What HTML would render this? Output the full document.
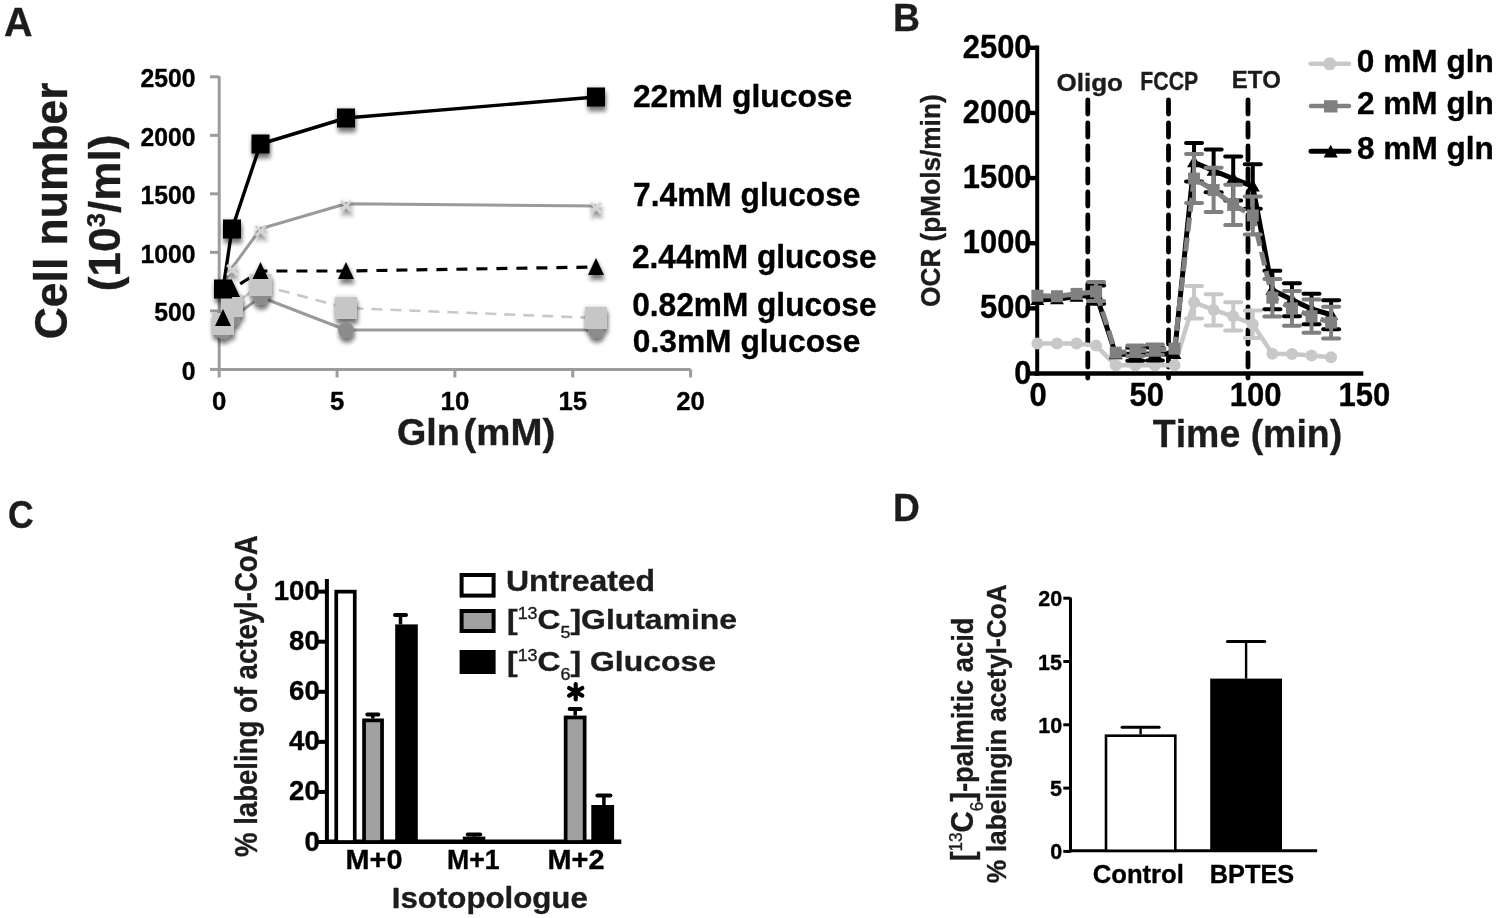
<!DOCTYPE html>
<html><head><meta charset="utf-8"><style>
html,body{margin:0;padding:0;background:#fff;width:1500px;height:918px;overflow:hidden}
svg{display:block}
text{font-family:"Liberation Sans",sans-serif;font-weight:bold;font-kerning:none;stroke-width:0.35px}
svg{filter:grayscale(1) blur(0.3px)}
</style></head><body>
<svg width="1500" height="918" viewBox="0 0 1500 918">
<defs><filter id="sh" x="-40%" y="-40%" width="180%" height="190%"><feGaussianBlur in="SourceAlpha" stdDeviation="2.2" result="b1"/><feOffset in="b1" dx="0.5" dy="4.5"/><feComponentTransfer result="s"><feFuncA type="linear" slope="0.5"/></feComponentTransfer><feComponentTransfer in="b1" result="h"><feFuncA type="linear" slope="0.22"/></feComponentTransfer><feGaussianBlur in="SourceGraphic" stdDeviation="0.6" result="g"/><feMerge><feMergeNode in="h"/><feMergeNode in="s"/><feMergeNode in="g"/></feMerge></filter></defs>
<rect width="1500" height="918" fill="#fff"/>
<text transform="translate(3.92,35.60) scale(0.9918,1)" font-size="39.83" fill="#1c1c1c" stroke="#1c1c1c">A</text>
<text transform="translate(892.90,30.70) scale(0.9597,1)" font-size="38.95" fill="#1c1c1c" stroke="#1c1c1c">B</text>
<text transform="translate(8.04,528.00) scale(0.9103,1)" font-size="38.98" fill="#1c1c1c" stroke="#1c1c1c">C</text>
<text transform="translate(892.91,520.70) scale(0.9438,1)" font-size="39.39" fill="#1c1c1c" stroke="#1c1c1c">D</text>
<line x1="219.20" y1="76.20" x2="219.20" y2="371.00" stroke="#9c9c9c" stroke-width="3" />
<line x1="217.70" y1="369.40" x2="690.60" y2="369.40" stroke="#9c9c9c" stroke-width="3" />
<line x1="210.00" y1="369.40" x2="219.20" y2="369.40" stroke="#9c9c9c" stroke-width="3" />
<line x1="210.00" y1="310.88" x2="219.20" y2="310.88" stroke="#9c9c9c" stroke-width="3" />
<line x1="210.00" y1="252.36" x2="219.20" y2="252.36" stroke="#9c9c9c" stroke-width="3" />
<line x1="210.00" y1="193.84" x2="219.20" y2="193.84" stroke="#9c9c9c" stroke-width="3" />
<line x1="210.00" y1="135.32" x2="219.20" y2="135.32" stroke="#9c9c9c" stroke-width="3" />
<line x1="210.00" y1="76.80" x2="219.20" y2="76.80" stroke="#9c9c9c" stroke-width="3" />
<line x1="219.20" y1="369.40" x2="219.20" y2="377.50" stroke="#9c9c9c" stroke-width="3" />
<line x1="337.05" y1="369.40" x2="337.05" y2="377.50" stroke="#9c9c9c" stroke-width="3" />
<line x1="454.90" y1="369.40" x2="454.90" y2="377.50" stroke="#9c9c9c" stroke-width="3" />
<line x1="572.75" y1="369.40" x2="572.75" y2="377.50" stroke="#9c9c9c" stroke-width="3" />
<line x1="690.60" y1="369.40" x2="690.60" y2="377.50" stroke="#9c9c9c" stroke-width="3" />
<text transform="translate(181.84,379.80) scale(0.9750,1)" font-size="25.40" fill="#000" stroke="#000">0</text>
<text transform="translate(154.30,321.28) scale(0.9750,1)" font-size="25.40" fill="#000" stroke="#000">500</text>
<text transform="translate(140.52,262.76) scale(0.9750,1)" font-size="25.40" fill="#000" stroke="#000">1000</text>
<text transform="translate(140.52,204.24) scale(0.9750,1)" font-size="25.40" fill="#000" stroke="#000">1500</text>
<text transform="translate(140.52,145.72) scale(0.9750,1)" font-size="25.40" fill="#000" stroke="#000">2000</text>
<text transform="translate(140.52,87.20) scale(0.9750,1)" font-size="25.40" fill="#000" stroke="#000">2500</text>
<text transform="translate(212.04,410.30) scale(0.9900,1)" font-size="26.00" fill="#000" stroke="#000">0</text>
<text transform="translate(329.89,410.30) scale(0.9900,1)" font-size="26.00" fill="#000" stroke="#000">5</text>
<text transform="translate(440.58,410.30) scale(0.9900,1)" font-size="26.00" fill="#000" stroke="#000">10</text>
<text transform="translate(558.43,410.30) scale(0.9900,1)" font-size="26.00" fill="#000" stroke="#000">15</text>
<text transform="translate(676.28,410.30) scale(0.9900,1)" font-size="26.00" fill="#000" stroke="#000">20</text>
<text transform="translate(396.95,445.40) scale(1.0117,1)" font-size="37.30" fill="#1c1c1c" stroke="#1c1c1c">Gln</text>
<text transform="translate(463.49,445.40) scale(1.0297,1)" font-size="37.30" fill="#1c1c1c" stroke="#1c1c1c">(mM)</text>
<text transform="translate(66.60,339.22) rotate(-90) scale(0.9810,1)" font-size="45.30" fill="#1c1c1c" stroke="#1c1c1c" stroke-width="0.7">Cell number</text>
<text transform="translate(120.00,291.30) rotate(-90) scale(1.0051,1)" font-size="44.00" fill="#1c1c1c" stroke="#1c1c1c">(10<tspan font-size="25.52" dy="-14.52">3</tspan><tspan dy="14.52">/ml)</tspan></text>
<text transform="translate(632.90,106.90) scale(1.0145,1)" font-size="31.40" fill="#000" stroke="#000">22mM glucose</text>
<text transform="translate(633.04,206.20) scale(0.9574,1)" font-size="33.14" fill="#000" stroke="#000">7.4mM glucose</text>
<text transform="translate(631.90,268.20) scale(0.9732,1)" font-size="32.56" fill="#000" stroke="#000">2.44mM glucose</text>
<text transform="translate(632.25,315.50) scale(0.9675,1)" font-size="32.70" fill="#000" stroke="#000">0.82mM glucose</text>
<text transform="translate(632.74,352.00) scale(0.9935,1)" font-size="31.98" fill="#000" stroke="#000">0.3mM glucose</text>
<polyline points="223.00,331.00 232.00,318.00 260.50,297.00 346.00,330.00 596.00,330.00" fill="none" stroke="#9a9a9a" stroke-width="3" stroke-linejoin="round" />
<polyline points="260.50,285.00 346.00,308.00 596.00,318.00" fill="none" stroke="#c8c8c8" stroke-width="2.6" stroke-linejoin="round" stroke-dasharray="11 8"/>
<polyline points="223.00,324.00 232.00,306.00 260.50,285.00" fill="none" stroke="#c8c8c8" stroke-width="2.6" stroke-linejoin="round" />
<polyline points="223.00,285.00 232.00,268.00 260.50,228.80 346.00,203.80 596.00,206.00" fill="none" stroke="#9a9a9a" stroke-width="3" stroke-linejoin="round" />
<polyline points="223.00,318.00 232.00,289.00 260.50,271.00 346.00,271.00 596.00,267.00" fill="none" stroke="#000" stroke-width="3.2" stroke-linejoin="round" stroke-dasharray="11 9"/>
<polyline points="223.00,289.00 232.00,229.00 260.50,144.00 346.00,118.00 596.00,97.00" fill="none" stroke="#000" stroke-width="3.4" stroke-linejoin="round" />
<g filter="url(#sh)">
<circle cx="223" cy="331" r="8" fill="#8c8c8c"/>
<circle cx="232" cy="318" r="8" fill="#8c8c8c"/>
<circle cx="260.5" cy="297" r="8" fill="#8c8c8c"/>
<circle cx="346" cy="330" r="8" fill="#8c8c8c"/>
<circle cx="596" cy="330" r="8" fill="#8c8c8c"/>
<rect x="212.00" y="313.00" width="22.00" height="22.00" fill="#c6c6c6" />
<rect x="221.00" y="295.00" width="22.00" height="22.00" fill="#c6c6c6" />
<rect x="249.50" y="274.00" width="22.00" height="22.00" fill="#c6c6c6" />
<rect x="335.00" y="297.00" width="22.00" height="22.00" fill="#c6c6c6" />
<rect x="585.00" y="307.00" width="22.00" height="22.00" fill="#c6c6c6" />
<path d="M218,282 L228,292 M218,292 L228,282" stroke="#d4d4d4" stroke-width="2.6"/>
<path d="M227,265 L237,275 M227,275 L237,265" stroke="#d4d4d4" stroke-width="2.6"/>
<path d="M255.5,225.8 L265.5,235.8 M255.5,235.8 L265.5,225.8" stroke="#d4d4d4" stroke-width="2.6"/>
<path d="M341,200.8 L351,210.8 M341,210.8 L351,200.8" stroke="#d4d4d4" stroke-width="2.6"/>
<path d="M591,203 L601,213 M591,213 L601,203" stroke="#d4d4d4" stroke-width="2.6"/>
<path d="M223,309 L231,326 L215,326 Z" fill="#000"/>
<path d="M232,280 L240,297 L224,297 Z" fill="#000"/>
<path d="M260.5,262 L268.5,279 L252.5,279 Z" fill="#000"/>
<path d="M346,262 L354,279 L338,279 Z" fill="#000"/>
<path d="M596,258 L604,275 L588,275 Z" fill="#000"/>
<rect x="214.00" y="279.50" width="18.00" height="19.00" fill="#000" />
<rect x="223.00" y="219.50" width="18.00" height="19.00" fill="#000" />
<rect x="251.50" y="134.50" width="18.00" height="19.00" fill="#000" />
<rect x="337.00" y="108.50" width="18.00" height="19.00" fill="#000" />
<rect x="587.00" y="87.50" width="18.00" height="19.00" fill="#000" />
</g>
<line x1="1037.20" y1="45.60" x2="1037.20" y2="375.80" stroke="#000" stroke-width="4" stroke-linecap="butt"/>
<line x1="1035.20" y1="373.50" x2="1363.30" y2="373.50" stroke="#000" stroke-width="4.6" />
<line x1="1027.10" y1="373.50" x2="1037.20" y2="373.50" stroke="#000" stroke-width="4.4" />
<line x1="1027.10" y1="308.36" x2="1037.20" y2="308.36" stroke="#000" stroke-width="4.4" />
<line x1="1027.10" y1="243.22" x2="1037.20" y2="243.22" stroke="#000" stroke-width="4.4" />
<line x1="1027.10" y1="178.08" x2="1037.20" y2="178.08" stroke="#000" stroke-width="4.4" />
<line x1="1027.10" y1="112.94" x2="1037.20" y2="112.94" stroke="#000" stroke-width="4.4" />
<line x1="1027.10" y1="47.80" x2="1037.20" y2="47.80" stroke="#000" stroke-width="4.4" />
<text transform="translate(1014.31,383.60) scale(0.9550,1)" font-size="32.30" fill="#000" stroke="#000">0</text>
<text transform="translate(980.00,318.46) scale(0.9550,1)" font-size="32.30" fill="#000" stroke="#000">500</text>
<text transform="translate(962.84,253.32) scale(0.9550,1)" font-size="32.30" fill="#000" stroke="#000">1000</text>
<text transform="translate(962.84,188.18) scale(0.9550,1)" font-size="32.30" fill="#000" stroke="#000">1500</text>
<text transform="translate(962.84,123.04) scale(0.9550,1)" font-size="32.30" fill="#000" stroke="#000">2000</text>
<text transform="translate(962.84,57.90) scale(0.9550,1)" font-size="32.30" fill="#000" stroke="#000">2500</text>
<text transform="translate(1029.38,406.00) scale(0.9600,1)" font-size="32.30" fill="#000" stroke="#000">0</text>
<text transform="translate(1129.53,406.00) scale(0.9600,1)" font-size="32.30" fill="#000" stroke="#000">50</text>
<text transform="translate(1229.69,406.00) scale(0.9600,1)" font-size="32.30" fill="#000" stroke="#000">100</text>
<text transform="translate(1338.47,406.00) scale(0.9600,1)" font-size="32.30" fill="#000" stroke="#000">150</text>
<text transform="translate(1152.78,446.60) scale(0.9446,1)" font-size="39.68" fill="#1c1c1c" stroke="#1c1c1c">Time (min)</text>
<text transform="translate(940.30,306.88) rotate(-90) scale(0.9392,1)" font-size="27.91" fill="#1c1c1c" stroke="#1c1c1c">OCR (pMols/min)</text>
<line x1="1087.80" y1="100.00" x2="1087.80" y2="378.00" stroke="#000" stroke-width="4.8" stroke-dasharray="14 9" stroke-linecap="round"/>
<line x1="1168.50" y1="100.00" x2="1168.50" y2="378.00" stroke="#000" stroke-width="4.8" stroke-dasharray="14 9" stroke-linecap="round"/>
<line x1="1248.00" y1="100.00" x2="1248.00" y2="378.00" stroke="#000" stroke-width="4.8" stroke-dasharray="14 9" stroke-linecap="round"/>
<text transform="translate(1056.43,90.80) scale(1.0546,1)" font-size="24.71" fill="#1c1c1c" stroke="#1c1c1c">Oligo</text>
<text transform="translate(1140.28,90.00) scale(0.8370,1)" font-size="25.44" fill="#1c1c1c" stroke="#1c1c1c">FCCP</text>
<text transform="translate(1231.70,87.50) scale(0.9883,1)" font-size="24.27" fill="#1c1c1c" stroke="#1c1c1c">ETO</text>
<text transform="translate(1356.75,71.90) scale(0.9895,1)" font-size="31.98" fill="#000" stroke="#000">0 mM gln</text>
<text transform="translate(1356.90,114.40) scale(1.0113,1)" font-size="31.25" fill="#000" stroke="#000">2 mM gln</text>
<text transform="translate(1357.00,159.00) scale(1.0106,1)" font-size="31.25" fill="#000" stroke="#000">8 mM gln</text>
<line x1="1310.60" y1="63.80" x2="1348.90" y2="63.80" stroke="#c8c8c8" stroke-width="4.5" stroke-linecap="round"/>
<circle cx="1329.7" cy="63.8" r="6.5" fill="#c8c8c8"/>
<line x1="1311.00" y1="106.10" x2="1349.00" y2="106.10" stroke="#808080" stroke-width="4.5" stroke-linecap="round"/>
<rect x="1324.00" y="100.20" width="13.50" height="12.30" fill="#808080" />
<line x1="1311.00" y1="151.20" x2="1349.00" y2="151.20" stroke="#000" stroke-width="5" stroke-linecap="round"/>
<path d="M1330.7,144.8 L1337.8,157.6 L1323.6,157.6 Z" fill="#000"/>
<line x1="1194.04" y1="285.95" x2="1194.04" y2="318.52" stroke="#c8c8c8" stroke-width="4" />
<line x1="1186.04" y1="285.95" x2="1202.04" y2="285.95" stroke="#c8c8c8" stroke-width="4" stroke-linecap="round"/>
<line x1="1186.04" y1="318.52" x2="1202.04" y2="318.52" stroke="#c8c8c8" stroke-width="4" stroke-linecap="round"/>
<line x1="1213.62" y1="294.29" x2="1213.62" y2="325.56" stroke="#c8c8c8" stroke-width="4" />
<line x1="1205.62" y1="294.29" x2="1221.62" y2="294.29" stroke="#c8c8c8" stroke-width="4" stroke-linecap="round"/>
<line x1="1205.62" y1="325.56" x2="1221.62" y2="325.56" stroke="#c8c8c8" stroke-width="4" stroke-linecap="round"/>
<line x1="1233.20" y1="302.24" x2="1233.20" y2="330.38" stroke="#c8c8c8" stroke-width="4" />
<line x1="1225.20" y1="302.24" x2="1241.20" y2="302.24" stroke="#c8c8c8" stroke-width="4" stroke-linecap="round"/>
<line x1="1225.20" y1="330.38" x2="1241.20" y2="330.38" stroke="#c8c8c8" stroke-width="4" stroke-linecap="round"/>
<line x1="1252.78" y1="310.57" x2="1252.78" y2="337.93" stroke="#c8c8c8" stroke-width="4" />
<line x1="1244.78" y1="310.57" x2="1260.78" y2="310.57" stroke="#c8c8c8" stroke-width="4" stroke-linecap="round"/>
<line x1="1244.78" y1="337.93" x2="1260.78" y2="337.93" stroke="#c8c8c8" stroke-width="4" stroke-linecap="round"/>
<polyline points="1037.40,343.54 1056.98,343.54 1076.56,343.54 1096.14,345.62 1115.72,365.29 1135.30,365.29 1154.88,365.29 1174.46,365.29 1194.04,302.24 1213.62,309.92 1233.20,316.31 1252.78,324.25 1272.36,353.83 1291.95,354.09 1311.53,355.52 1331.11,357.21" fill="none" stroke="#c8c8c8" stroke-width="4.5" stroke-linejoin="round" />
<circle cx="1037.40" cy="343.54" r="6" fill="#c8c8c8"/>
<circle cx="1056.98" cy="343.54" r="6" fill="#c8c8c8"/>
<circle cx="1076.56" cy="343.54" r="6" fill="#c8c8c8"/>
<circle cx="1096.14" cy="345.62" r="6" fill="#c8c8c8"/>
<circle cx="1115.72" cy="365.29" r="6" fill="#c8c8c8"/>
<circle cx="1135.30" cy="365.29" r="6" fill="#c8c8c8"/>
<circle cx="1154.88" cy="365.29" r="6" fill="#c8c8c8"/>
<circle cx="1174.46" cy="365.29" r="6" fill="#c8c8c8"/>
<circle cx="1194.04" cy="302.24" r="6" fill="#c8c8c8"/>
<circle cx="1213.62" cy="309.92" r="6" fill="#c8c8c8"/>
<circle cx="1233.20" cy="316.31" r="6" fill="#c8c8c8"/>
<circle cx="1252.78" cy="324.25" r="6" fill="#c8c8c8"/>
<circle cx="1272.36" cy="353.83" r="6" fill="#c8c8c8"/>
<circle cx="1291.95" cy="354.09" r="6" fill="#c8c8c8"/>
<circle cx="1311.53" cy="355.52" r="6" fill="#c8c8c8"/>
<circle cx="1331.11" cy="357.21" r="6" fill="#c8c8c8"/>
<line x1="1096.14" y1="285.56" x2="1096.14" y2="303.80" stroke="#000" stroke-width="4" />
<line x1="1088.14" y1="285.56" x2="1104.14" y2="285.56" stroke="#000" stroke-width="4" stroke-linecap="round"/>
<line x1="1088.14" y1="303.80" x2="1104.14" y2="303.80" stroke="#000" stroke-width="4" stroke-linecap="round"/>
<line x1="1135.30" y1="347.70" x2="1135.30" y2="360.73" stroke="#000" stroke-width="4" />
<line x1="1127.30" y1="347.70" x2="1143.30" y2="347.70" stroke="#000" stroke-width="4" stroke-linecap="round"/>
<line x1="1127.30" y1="360.73" x2="1143.30" y2="360.73" stroke="#000" stroke-width="4" stroke-linecap="round"/>
<line x1="1154.88" y1="347.44" x2="1154.88" y2="360.47" stroke="#000" stroke-width="4" />
<line x1="1146.88" y1="347.44" x2="1162.88" y2="347.44" stroke="#000" stroke-width="4" stroke-linecap="round"/>
<line x1="1146.88" y1="360.47" x2="1162.88" y2="360.47" stroke="#000" stroke-width="4" stroke-linecap="round"/>
<line x1="1194.04" y1="143.03" x2="1194.04" y2="181.60" stroke="#000" stroke-width="4" />
<line x1="1186.04" y1="143.03" x2="1202.04" y2="143.03" stroke="#000" stroke-width="4" stroke-linecap="round"/>
<line x1="1186.04" y1="181.60" x2="1202.04" y2="181.60" stroke="#000" stroke-width="4" stroke-linecap="round"/>
<line x1="1213.62" y1="149.42" x2="1213.62" y2="192.15" stroke="#000" stroke-width="4" />
<line x1="1205.62" y1="149.42" x2="1221.62" y2="149.42" stroke="#000" stroke-width="4" stroke-linecap="round"/>
<line x1="1205.62" y1="192.15" x2="1221.62" y2="192.15" stroke="#000" stroke-width="4" stroke-linecap="round"/>
<line x1="1233.20" y1="156.58" x2="1233.20" y2="200.62" stroke="#000" stroke-width="4" />
<line x1="1225.20" y1="156.58" x2="1241.20" y2="156.58" stroke="#000" stroke-width="4" stroke-linecap="round"/>
<line x1="1225.20" y1="200.62" x2="1241.20" y2="200.62" stroke="#000" stroke-width="4" stroke-linecap="round"/>
<line x1="1252.78" y1="164.14" x2="1252.78" y2="208.70" stroke="#000" stroke-width="4" />
<line x1="1244.78" y1="164.14" x2="1260.78" y2="164.14" stroke="#000" stroke-width="4" stroke-linecap="round"/>
<line x1="1244.78" y1="208.70" x2="1260.78" y2="208.70" stroke="#000" stroke-width="4" stroke-linecap="round"/>
<line x1="1272.36" y1="270.71" x2="1272.36" y2="309.27" stroke="#000" stroke-width="4" />
<line x1="1264.36" y1="270.71" x2="1280.36" y2="270.71" stroke="#000" stroke-width="4" stroke-linecap="round"/>
<line x1="1264.36" y1="309.27" x2="1280.36" y2="309.27" stroke="#000" stroke-width="4" stroke-linecap="round"/>
<line x1="1291.95" y1="283.35" x2="1291.95" y2="316.18" stroke="#000" stroke-width="4" />
<line x1="1283.95" y1="283.35" x2="1299.95" y2="283.35" stroke="#000" stroke-width="4" stroke-linecap="round"/>
<line x1="1283.95" y1="316.18" x2="1299.95" y2="316.18" stroke="#000" stroke-width="4" stroke-linecap="round"/>
<line x1="1311.53" y1="293.77" x2="1311.53" y2="324.25" stroke="#000" stroke-width="4" />
<line x1="1303.53" y1="293.77" x2="1319.53" y2="293.77" stroke="#000" stroke-width="4" stroke-linecap="round"/>
<line x1="1303.53" y1="324.25" x2="1319.53" y2="324.25" stroke="#000" stroke-width="4" stroke-linecap="round"/>
<line x1="1331.11" y1="300.28" x2="1331.11" y2="329.20" stroke="#000" stroke-width="4" />
<line x1="1323.11" y1="300.28" x2="1339.11" y2="300.28" stroke="#000" stroke-width="4" stroke-linecap="round"/>
<line x1="1323.11" y1="329.20" x2="1339.11" y2="329.20" stroke="#000" stroke-width="4" stroke-linecap="round"/>
<polyline points="1037.40,299.89 1056.98,299.24 1076.56,296.63 1096.14,294.68 1115.72,354.22 1135.30,354.22 1154.88,353.96 1174.46,353.96 1194.04,162.32 1213.62,170.78 1233.20,178.60 1252.78,186.42 1272.36,289.99 1291.95,299.76 1311.53,309.01 1331.11,314.74" fill="none" stroke="#000" stroke-width="5" stroke-linejoin="round" />
<path d="M1037.40,292.89 L1044.40,304.89 L1030.40,304.89 Z" fill="#000"/>
<path d="M1056.98,292.24 L1063.98,304.24 L1049.98,304.24 Z" fill="#000"/>
<path d="M1076.56,289.63 L1083.56,301.63 L1069.56,301.63 Z" fill="#000"/>
<path d="M1096.14,287.68 L1103.14,299.68 L1089.14,299.68 Z" fill="#000"/>
<path d="M1115.72,347.22 L1122.72,359.22 L1108.72,359.22 Z" fill="#000"/>
<path d="M1135.30,347.22 L1142.30,359.22 L1128.30,359.22 Z" fill="#000"/>
<path d="M1154.88,346.96 L1161.88,358.96 L1147.88,358.96 Z" fill="#000"/>
<path d="M1174.46,346.96 L1181.46,358.96 L1167.46,358.96 Z" fill="#000"/>
<path d="M1194.04,155.32 L1201.04,167.32 L1187.04,167.32 Z" fill="#000"/>
<path d="M1213.62,163.78 L1220.62,175.78 L1206.62,175.78 Z" fill="#000"/>
<path d="M1233.20,171.60 L1240.20,183.60 L1226.20,183.60 Z" fill="#000"/>
<path d="M1252.78,179.42 L1259.78,191.42 L1245.78,191.42 Z" fill="#000"/>
<path d="M1272.36,282.99 L1279.36,294.99 L1265.36,294.99 Z" fill="#000"/>
<path d="M1291.95,292.76 L1298.95,304.76 L1284.95,304.76 Z" fill="#000"/>
<path d="M1311.53,302.01 L1318.53,314.01 L1304.53,314.01 Z" fill="#000"/>
<path d="M1331.11,307.74 L1338.11,319.74 L1324.11,319.74 Z" fill="#000"/>
<line x1="1096.14" y1="282.04" x2="1096.14" y2="301.06" stroke="#808080" stroke-width="4" />
<line x1="1088.14" y1="282.04" x2="1104.14" y2="282.04" stroke="#808080" stroke-width="4" stroke-linecap="round"/>
<line x1="1088.14" y1="301.06" x2="1104.14" y2="301.06" stroke="#808080" stroke-width="4" stroke-linecap="round"/>
<line x1="1135.30" y1="345.62" x2="1135.30" y2="356.04" stroke="#808080" stroke-width="4" />
<line x1="1127.30" y1="345.62" x2="1143.30" y2="345.62" stroke="#808080" stroke-width="4" stroke-linecap="round"/>
<line x1="1127.30" y1="356.04" x2="1143.30" y2="356.04" stroke="#808080" stroke-width="4" stroke-linecap="round"/>
<line x1="1154.88" y1="344.45" x2="1154.88" y2="354.87" stroke="#808080" stroke-width="4" />
<line x1="1146.88" y1="344.45" x2="1162.88" y2="344.45" stroke="#808080" stroke-width="4" stroke-linecap="round"/>
<line x1="1146.88" y1="354.87" x2="1162.88" y2="354.87" stroke="#808080" stroke-width="4" stroke-linecap="round"/>
<line x1="1194.04" y1="154.11" x2="1194.04" y2="203.09" stroke="#808080" stroke-width="4" />
<line x1="1186.04" y1="154.11" x2="1202.04" y2="154.11" stroke="#808080" stroke-width="4" stroke-linecap="round"/>
<line x1="1186.04" y1="203.09" x2="1202.04" y2="203.09" stroke="#808080" stroke-width="4" stroke-linecap="round"/>
<line x1="1213.62" y1="167.79" x2="1213.62" y2="212.08" stroke="#808080" stroke-width="4" />
<line x1="1205.62" y1="167.79" x2="1221.62" y2="167.79" stroke="#808080" stroke-width="4" stroke-linecap="round"/>
<line x1="1205.62" y1="212.08" x2="1221.62" y2="212.08" stroke="#808080" stroke-width="4" stroke-linecap="round"/>
<line x1="1233.20" y1="184.85" x2="1233.20" y2="224.98" stroke="#808080" stroke-width="4" />
<line x1="1225.20" y1="184.85" x2="1241.20" y2="184.85" stroke="#808080" stroke-width="4" stroke-linecap="round"/>
<line x1="1225.20" y1="224.98" x2="1241.20" y2="224.98" stroke="#808080" stroke-width="4" stroke-linecap="round"/>
<line x1="1252.78" y1="196.45" x2="1252.78" y2="234.49" stroke="#808080" stroke-width="4" />
<line x1="1244.78" y1="196.45" x2="1260.78" y2="196.45" stroke="#808080" stroke-width="4" stroke-linecap="round"/>
<line x1="1244.78" y1="234.49" x2="1260.78" y2="234.49" stroke="#808080" stroke-width="4" stroke-linecap="round"/>
<line x1="1272.36" y1="278.92" x2="1272.36" y2="316.44" stroke="#808080" stroke-width="4" />
<line x1="1264.36" y1="278.92" x2="1280.36" y2="278.92" stroke="#808080" stroke-width="4" stroke-linecap="round"/>
<line x1="1264.36" y1="316.44" x2="1280.36" y2="316.44" stroke="#808080" stroke-width="4" stroke-linecap="round"/>
<line x1="1291.95" y1="290.90" x2="1291.95" y2="325.82" stroke="#808080" stroke-width="4" />
<line x1="1283.95" y1="290.90" x2="1299.95" y2="290.90" stroke="#808080" stroke-width="4" stroke-linecap="round"/>
<line x1="1283.95" y1="325.82" x2="1299.95" y2="325.82" stroke="#808080" stroke-width="4" stroke-linecap="round"/>
<line x1="1311.53" y1="299.50" x2="1311.53" y2="332.85" stroke="#808080" stroke-width="4" />
<line x1="1303.53" y1="299.50" x2="1319.53" y2="299.50" stroke="#808080" stroke-width="4" stroke-linecap="round"/>
<line x1="1303.53" y1="332.85" x2="1319.53" y2="332.85" stroke="#808080" stroke-width="4" stroke-linecap="round"/>
<line x1="1331.11" y1="306.67" x2="1331.11" y2="338.45" stroke="#808080" stroke-width="4" />
<line x1="1323.11" y1="306.67" x2="1339.11" y2="306.67" stroke="#808080" stroke-width="4" stroke-linecap="round"/>
<line x1="1323.11" y1="338.45" x2="1339.11" y2="338.45" stroke="#808080" stroke-width="4" stroke-linecap="round"/>
<polyline points="1037.40,295.72 1056.98,296.24 1076.56,293.90 1096.14,291.55 1115.72,352.66 1135.30,350.83 1154.88,349.66 1174.46,348.62 1194.04,178.60 1213.62,189.94 1233.20,204.92 1252.78,215.47 1272.36,297.68 1291.95,308.36 1311.53,316.18 1331.11,322.56" fill="none" stroke="#808080" stroke-width="5" stroke-linejoin="round" stroke-dasharray="14 6"/>
<rect x="1031.40" y="289.72" width="12.00" height="12.00" fill="#808080" />
<rect x="1050.98" y="290.24" width="12.00" height="12.00" fill="#808080" />
<rect x="1070.56" y="287.90" width="12.00" height="12.00" fill="#808080" />
<rect x="1090.14" y="285.55" width="12.00" height="12.00" fill="#808080" />
<rect x="1109.72" y="346.66" width="12.00" height="12.00" fill="#808080" />
<rect x="1129.30" y="344.83" width="12.00" height="12.00" fill="#808080" />
<rect x="1148.88" y="343.66" width="12.00" height="12.00" fill="#808080" />
<rect x="1168.46" y="342.62" width="12.00" height="12.00" fill="#808080" />
<rect x="1188.04" y="172.60" width="12.00" height="12.00" fill="#808080" />
<rect x="1207.62" y="183.94" width="12.00" height="12.00" fill="#808080" />
<rect x="1227.20" y="198.92" width="12.00" height="12.00" fill="#808080" />
<rect x="1246.78" y="209.47" width="12.00" height="12.00" fill="#808080" />
<rect x="1266.36" y="291.68" width="12.00" height="12.00" fill="#808080" />
<rect x="1285.95" y="302.36" width="12.00" height="12.00" fill="#808080" />
<rect x="1305.53" y="310.18" width="12.00" height="12.00" fill="#808080" />
<rect x="1325.11" y="316.56" width="12.00" height="12.00" fill="#808080" />
<line x1="326.90" y1="579.00" x2="326.90" y2="844.00" stroke="#000" stroke-width="4" />
<line x1="325.00" y1="841.80" x2="621.30" y2="841.80" stroke="#000" stroke-width="4.5" />
<line x1="316.50" y1="842.00" x2="326.90" y2="842.00" stroke="#000" stroke-width="4" />
<text transform="translate(304.41,850.50) scale(1.0200,1)" font-size="27.00" fill="#000" stroke="#000">0</text>
<line x1="316.50" y1="791.93" x2="326.90" y2="791.93" stroke="#000" stroke-width="4" />
<text transform="translate(289.10,800.43) scale(1.0200,1)" font-size="27.00" fill="#000" stroke="#000">20</text>
<line x1="316.50" y1="741.86" x2="326.90" y2="741.86" stroke="#000" stroke-width="4" />
<text transform="translate(289.10,750.36) scale(1.0200,1)" font-size="27.00" fill="#000" stroke="#000">40</text>
<line x1="316.50" y1="691.79" x2="326.90" y2="691.79" stroke="#000" stroke-width="4" />
<text transform="translate(289.10,700.29) scale(1.0200,1)" font-size="27.00" fill="#000" stroke="#000">60</text>
<line x1="316.50" y1="641.72" x2="326.90" y2="641.72" stroke="#000" stroke-width="4" />
<text transform="translate(289.10,650.22) scale(1.0200,1)" font-size="27.00" fill="#000" stroke="#000">80</text>
<line x1="316.50" y1="591.65" x2="326.90" y2="591.65" stroke="#000" stroke-width="4" />
<text transform="translate(273.78,600.15) scale(1.0200,1)" font-size="27.00" fill="#000" stroke="#000">100</text>
<rect x="336.25" y="591.65" width="18.50" height="250.35" fill="#fff" stroke="#000" stroke-width="3.7"/>
<rect x="364.05" y="720.35" width="18.00" height="121.65" fill="#a0a0a0" stroke="#000" stroke-width="3.7"/>
<line x1="372.80" y1="718.50" x2="372.80" y2="714.40" stroke="#000" stroke-width="3.5" />
<line x1="367.30" y1="714.40" x2="378.30" y2="714.40" stroke="#000" stroke-width="4" stroke-linecap="round"/>
<rect x="397.05" y="626.25" width="18.90" height="215.75" fill="#000" stroke="#000" stroke-width="3.7"/>
<line x1="400.50" y1="624.40" x2="400.50" y2="615.00" stroke="#000" stroke-width="3.5" />
<line x1="395.00" y1="615.00" x2="406.00" y2="615.00" stroke="#000" stroke-width="4" stroke-linecap="round"/>
<rect x="464.65" y="838.45" width="18.80" height="3.55" fill="#000" stroke="#000" stroke-width="3.7"/>
<line x1="474.00" y1="836.60" x2="474.00" y2="834.40" stroke="#000" stroke-width="3.5" />
<line x1="467.75" y1="834.40" x2="480.25" y2="834.40" stroke="#000" stroke-width="4" stroke-linecap="round"/>
<rect x="565.65" y="717.45" width="19.00" height="124.55" fill="#a0a0a0" stroke="#000" stroke-width="3.7"/>
<line x1="575.20" y1="715.60" x2="575.20" y2="709.10" stroke="#000" stroke-width="3.5" />
<line x1="569.70" y1="709.10" x2="580.70" y2="709.10" stroke="#000" stroke-width="4" stroke-linecap="round"/>
<rect x="593.15" y="806.85" width="19.10" height="35.15" fill="#000" stroke="#000" stroke-width="3.7"/>
<line x1="603.90" y1="805.00" x2="603.90" y2="795.40" stroke="#000" stroke-width="3.5" />
<line x1="597.40" y1="795.40" x2="610.40" y2="795.40" stroke="#000" stroke-width="4" stroke-linecap="round"/>
<path d="M575.70,699.40 L575.70,684.20 M582.28,695.60 L569.12,688.00 M569.12,695.60 L582.28,688.00 " stroke="#000" stroke-width="4.2" stroke-linecap="round"/>
<text transform="translate(345.57,868.50) scale(1.0489,1)" font-size="27.50" fill="#000" stroke="#000">M+0</text>
<text transform="translate(447.01,868.50) scale(0.9718,1)" font-size="27.50" fill="#000" stroke="#000">M+1</text>
<text transform="translate(547.47,868.50) scale(1.0503,1)" font-size="27.50" fill="#000" stroke="#000">M+2</text>
<text transform="translate(391.81,907.80) scale(1.0638,1)" font-size="29.36" fill="#1c1c1c" stroke="#1c1c1c">Isotopologue</text>
<text transform="translate(257.20,856.99) rotate(-90) scale(0.8542,1)" font-size="32.27" fill="#1c1c1c" stroke="#1c1c1c" stroke-width="1.1">% labeling of acteyl-CoA</text>
<rect x="461.60" y="575.00" width="32.00" height="20.60" fill="#fff" stroke="#000" stroke-width="4"/>
<rect x="461.60" y="611.00" width="32.00" height="20.00" fill="#a0a0a0" stroke="#000" stroke-width="4"/>
<rect x="461.60" y="652.00" width="32.00" height="20.00" fill="#000" stroke="#000" stroke-width="4"/>
<text transform="translate(506.08,591.00) scale(1.0983,1)" font-size="29.07" fill="#1c1c1c" stroke="#1c1c1c">Untreated</text>
<text transform="translate(507.01,629.00) scale(1.1194,1)" font-size="28.50" fill="#1c1c1c" stroke="#1c1c1c">[<tspan font-size="15.96" dy="-10.26" font-weight="normal">13</tspan><tspan dy="10.26">C</tspan><tspan font-size="15.96" dy="9.12" font-weight="normal">5</tspan><tspan dy="-9.12">]Glutamine</tspan></text>
<text transform="translate(507.01,670.80) scale(1.1207,1)" font-size="28.50" fill="#1c1c1c" stroke="#1c1c1c">[<tspan font-size="15.96" dy="-10.26" font-weight="normal">13</tspan><tspan dy="10.26">C</tspan><tspan font-size="15.96" dy="9.12" font-weight="normal">6</tspan><tspan dy="-9.12">] Glucose</tspan></text>
<line x1="1070.50" y1="597.60" x2="1070.50" y2="852.30" stroke="#000" stroke-width="3" />
<line x1="1069.00" y1="850.80" x2="1317.20" y2="850.80" stroke="#000" stroke-width="3" />
<line x1="1063.30" y1="851.40" x2="1070.50" y2="851.40" stroke="#000" stroke-width="3" />
<text transform="translate(1050.32,859.40) scale(1.0000,1)" font-size="21.50" fill="#000" stroke="#000">0</text>
<line x1="1063.30" y1="788.10" x2="1070.50" y2="788.10" stroke="#000" stroke-width="3" />
<text transform="translate(1050.04,796.10) scale(1.0000,1)" font-size="21.50" fill="#000" stroke="#000">5</text>
<line x1="1063.30" y1="724.80" x2="1070.50" y2="724.80" stroke="#000" stroke-width="3" />
<text transform="translate(1038.37,732.80) scale(1.0000,1)" font-size="21.50" fill="#000" stroke="#000">10</text>
<line x1="1063.30" y1="661.50" x2="1070.50" y2="661.50" stroke="#000" stroke-width="3" />
<text transform="translate(1038.08,669.50) scale(1.0000,1)" font-size="21.50" fill="#000" stroke="#000">15</text>
<line x1="1063.30" y1="598.20" x2="1070.50" y2="598.20" stroke="#000" stroke-width="3" />
<text transform="translate(1038.37,606.20) scale(1.0000,1)" font-size="21.50" fill="#000" stroke="#000">20</text>
<rect x="1106.00" y="735.70" width="69.30" height="115.10" fill="#fff" stroke="#000" stroke-width="2.6"/>
<line x1="1140.60" y1="734.40" x2="1140.60" y2="727.20" stroke="#000" stroke-width="2.4" />
<line x1="1122.10" y1="727.20" x2="1159.10" y2="727.20" stroke="#000" stroke-width="3" stroke-linecap="round"/>
<rect x="1210.20" y="678.60" width="71.80" height="172.20" fill="#000" />
<line x1="1246.10" y1="678.60" x2="1246.10" y2="641.40" stroke="#000" stroke-width="2.4" />
<line x1="1227.45" y1="641.40" x2="1264.75" y2="641.40" stroke="#000" stroke-width="3" stroke-linecap="round"/>
<text transform="translate(1092.75,883.10) scale(1.0072,1)" font-size="25.44" fill="#000" stroke="#000">Control</text>
<text transform="translate(1209.81,883.10) scale(0.9950,1)" font-size="25.44" fill="#000" stroke="#000">BPTES</text>
<text transform="translate(973.00,861.25) rotate(-90) scale(0.9182,1)" font-size="32.00" fill="#1c1c1c" stroke="#1c1c1c">[<tspan font-size="18.56" dy="-10.56" font-weight="normal">13</tspan><tspan dy="10.56">C</tspan><tspan font-size="18.56" dy="9.60" font-weight="normal">6</tspan><tspan dy="-9.60">]</tspan><tspan font-size="29.76">-palmitic acid</tspan></text>
<text transform="translate(1005.90,883.16) rotate(-90) scale(0.9600,1)" font-size="27.50" fill="#1c1c1c" stroke="#1c1c1c">% labelingin acetyl-CoA</text>
</svg></body></html>
